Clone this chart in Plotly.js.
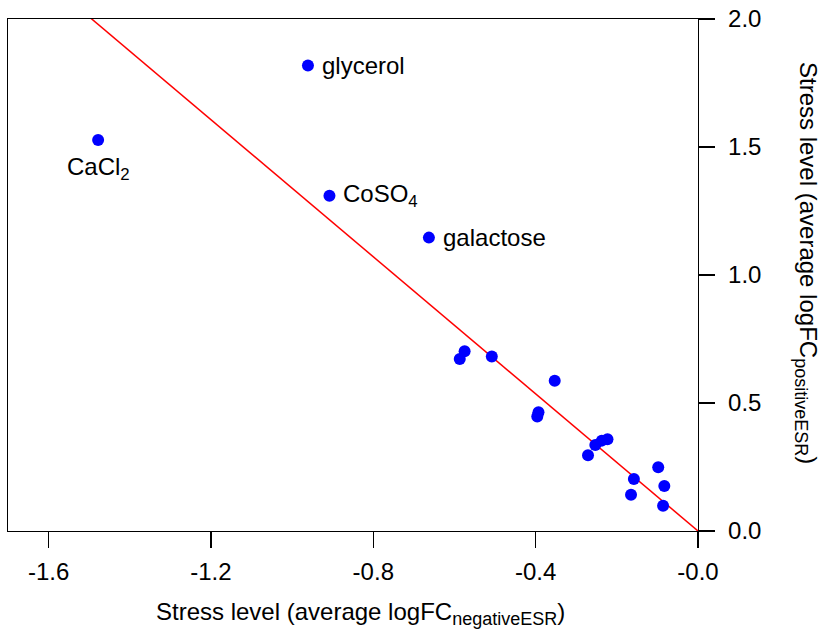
<!DOCTYPE html>
<html>
<head>
<meta charset="utf-8">
<script src="https://cdn.plot.ly/plotly-3.0.1.min.js"></script>
<style>html,body{margin:0;padding:0;background:#fff;}#chart{width:823px;height:631px;}</style>
</head>
<body>
<div id="chart"></div>
<script>
// Data
var xNeg = [-1.478, -0.961, -0.908, -0.663, -0.587, -0.575, -0.508, -0.353, -0.393, -0.396,
            -0.253, -0.237, -0.223, -0.271, -0.158, -0.165, -0.098, -0.083, -0.086];
var yPos = [1.527, 1.818, 1.310, 1.146, 0.672, 0.702, 0.682, 0.587, 0.464, 0.447,
            0.336, 0.353, 0.358, 0.296, 0.203, 0.142, 0.249, 0.176, 0.099];
var labelNames = ['CaCl<sub>2</sub>', 'glycerol', 'CoSO<sub>4</sub>', 'galactose'];
var labelIdx = [0, 1, 2, 3];
var fitSlope = -1.339;
var xRange = [-1.70, 0];
var yRange = [0, 2.0];
var xTickVals = [-1.6, -1.2, -0.8, -0.4, 0];
var xTickText = ['-1.6', '-1.2', '-0.8', '-0.4', '-0.0'];
var yTickVals = [0, 0.5, 1.0, 1.5, 2.0];
var yTickText = ['0.0', '0.5', '1.0', '1.5', '2.0'];

var fitX = [xRange[0], xRange[1]];
var fitY = fitX.map(function (v) { return fitSlope * v; });

var traces = [
  {x: fitX, y: fitY, mode: 'lines', line: {color: '#ff0000', width: 1.5}, hoverinfo: 'skip'},
  {x: xNeg, y: yPos, mode: 'markers', marker: {color: '#0000ff', size: 12}, cliponaxis: false}
];

var annotations = labelIdx.map(function (i, k) {
  var a = {x: xNeg[i], y: yPos[i], xref: 'x', yref: 'y', text: labelNames[k], showarrow: false,
           font: {size: 24, color: '#000'}};
  if (k === 0) { a.xanchor = 'center'; a.yanchor = 'middle'; a.yshift = -28; }
  else { a.xanchor = 'left'; a.yanchor = 'middle'; a.xshift = 12; }
  return a;
});
annotations.push({xref: 'paper', yref: 'paper', x: 0.5, y: 0, xshift: 7, yshift: -82, xanchor: 'center', yanchor: 'middle',
  text: 'Stress level (average logFC<sub><span style="font-size:18px">negativeESR</span></sub>)', showarrow: false, font: {size: 24, color: '#000'}});
annotations.push({xref: 'paper', yref: 'paper', x: 1, y: 0.5, xshift: 109, yshift: 12, xanchor: 'center', yanchor: 'middle',
  textangle: 90, text: 'Stress level (average logFC<sub><span style="font-size:18px">positiveESR</span></sub>)', showarrow: false, font: {size: 24, color: '#000'}});

var layout = {
  width: 823, height: 631,
  margin: {l: 8, r: 125, t: 19, b: 100, pad: 0},
  paper_bgcolor: '#fff', plot_bgcolor: '#fff',
  showlegend: false,
  font: {family: 'Liberation Sans, Arial, sans-serif', size: 24, color: '#000'},
  xaxis: {range: xRange, tickvals: xTickVals, ticktext: xTickText, ticks: 'outside', ticklen: 16,
          tickwidth: 1.3, tickcolor: '#000', showline: true, linecolor: '#000', linewidth: 1.3, mirror: true,
          showgrid: false, zeroline: false, tickfont: {size: 24}, ticklabelstandoff: 3},
  yaxis: {range: yRange, side: 'right', tickvals: yTickVals, ticktext: yTickText, ticks: 'outside', ticklen: 16,
          tickwidth: 1.3, tickcolor: '#000', showline: true, linecolor: '#000', linewidth: 1.3, mirror: true,
          showgrid: false, zeroline: false, tickfont: {size: 24}, ticklabelstandoff: 8},
  annotations: annotations
};

Plotly.newPlot('chart', traces, layout, {displayModeBar: false, staticPlot: true});
</script>
</body>
</html>
